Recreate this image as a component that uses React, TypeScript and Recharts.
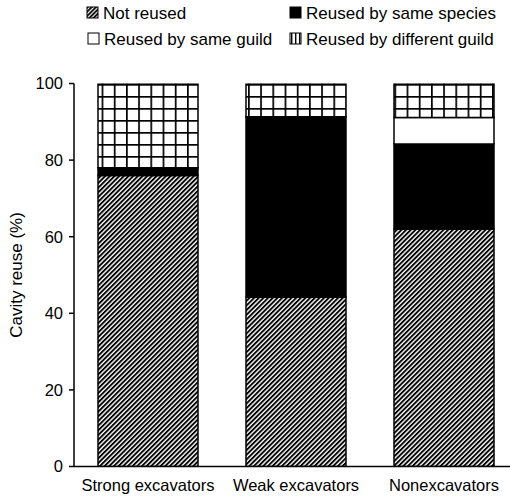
import React from 'react';
import { BarChart, Bar, XAxis, YAxis } from 'recharts';

const categories = ['Strong excavators', 'Weak excavators', 'Nonexcavators'];
const notReused = [76, 44.2, 62];
const sameSpecies = [2, 47.1, 22.2];
const sameGuild = [0, 0, 6.9];
const differentGuild = [22, 8.7, 8.9];
const yTicks = [0, 20, 40, 60, 80, 100];

const series = [
  { key: 'notReused', name: 'Not reused', fill: 'url(#hatch)' },
  { key: 'sameSpecies', name: 'Reused by same species', fill: '#000' },
  { key: 'sameGuild', name: 'Reused by same guild', fill: '#fff' },
  { key: 'differentGuild', name: 'Reused by different guild', fill: 'url(#grid)' },
];

const data = categories.map((name, i) => ({
  name,
  notReused: notReused[i],
  sameSpecies: sameSpecies[i],
  sameGuild: sameGuild[i],
  differentGuild: differentGuild[i],
}));

const font = '"Liberation Sans", Arial, sans-serif';

function Patterns() {
  return (
    <defs>
      <pattern id="hatch" width="3.3" height="3.3" patternUnits="userSpaceOnUse" patternTransform="rotate(45)">
        <rect width="3.3" height="3.3" fill="#fff" />
        <rect width="1.9" height="3.3" fill="#000" />
      </pattern>
      <pattern id="grid" x="4" y="0" width="12.2" height="12" patternUnits="userSpaceOnUse">
        <rect width="12.2" height="12" fill="#fff" />
        <rect width="1.7" height="12" fill="#000" />
        <rect width="12.2" height="1.7" fill="#000" />
      </pattern>
    </defs>
  );
}

// legend drawn as a plain svg over the chart, 2 x 2 layout
function LegendBox() {
  const pos = [
    { x: 87, y: 7 },
    { x: 290, y: 7 },
    { x: 88, y: 33 },
    { x: 290, y: 33 },
  ];
  return (
    <svg width={510} height={60} style={{ position: 'absolute', left: 0, top: 0 }}>
      {series.map((s, i) => (
        <g key={s.key}>
          <rect x={pos[i].x} y={pos[i].y} width={11} height={11} fill={s.fill.replace('#hatch', '#hatchL').replace('#grid', '#gridL')} stroke="#000" strokeWidth={1} />
          <text x={pos[i].x + 16} y={pos[i].y + 11.5} fontSize={17} fontFamily={font} fill="#000">
            {s.name}
          </text>
        </g>
      ))}
      <defs>
        <pattern id="hatchL" width="3" height="3" patternUnits="userSpaceOnUse" patternTransform="rotate(45)">
          <rect width="3" height="3" fill="#fff" />
          <rect width="1.8" height="3" fill="#000" />
        </pattern>
        <pattern id="gridL" x="291" y="34" width="4" height="12" patternUnits="userSpaceOnUse">
          <rect width="4" height="12" fill="#fff" />
          <rect width="1.4" height="12" fill="#000" />
        </pattern>
      </defs>
    </svg>
  );
}

export default function App() {
  return (
    <div style={{ position: 'absolute', left: 0, top: 0, width: 510, height: 499, overflow: 'hidden', background: '#fff' }}>
      <BarChart
        width={518}
        height={499}
        data={data}
        margin={{ top: 83.5, right: 0, left: 0, bottom: 0 }}
        style={{ fontFamily: font }}
      >
        <Patterns />
        <XAxis
          dataKey="name"
          height={32.5}
          axisLine={{ stroke: '#000', strokeWidth: 1.5 }}
          tickLine={false}
          tickMargin={7}
          interval={0}
          tick={{ fontSize: 16.5, fill: '#000' }}
        />
        <YAxis
          width={74}
          domain={[0, 100]}
          ticks={yTicks}
          allowDataOverflow
          axisLine={{ stroke: '#000', strokeWidth: 1.5 }}
          tickLine={{ stroke: '#000', strokeWidth: 1.5 }}
          tickSize={5}
          tickMargin={6}
          tick={{ fontSize: 16.5, fill: '#000' }}
          label={{
            value: 'Cavity reuse (%)',
            angle: -90,
            position: 'insideLeft',
            offset: 16,
            style: { textAnchor: 'middle', fontSize: 17, fill: '#000' },
          }}
        />
        {series.map((s) => (
          <Bar
            key={s.key}
            dataKey={s.key}
            name={s.name}
            stackId="a"
            fill={s.fill}
            stroke="#000"
            strokeWidth={1.5}
            barSize={100}
            isAnimationActive={false}
          />
        ))}
      </BarChart>
      <LegendBox />
    </div>
  );
}
